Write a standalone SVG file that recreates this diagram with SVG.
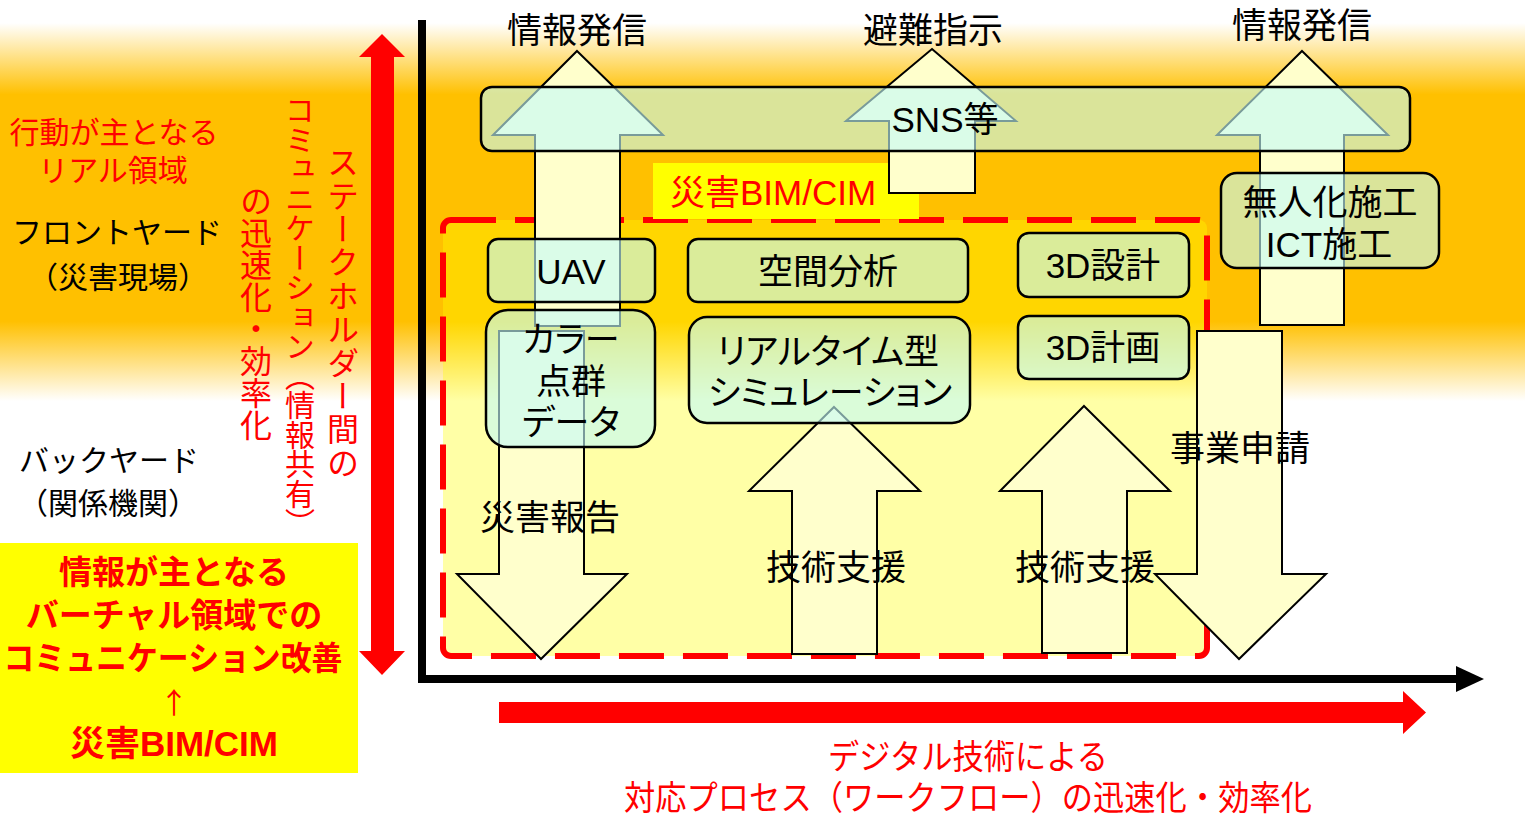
<svg xmlns="http://www.w3.org/2000/svg" width="1525" height="816" viewBox="0 0 1525 816">
<defs>
<linearGradient id="bg" x1="0" y1="0" x2="0" y2="420" gradientUnits="userSpaceOnUse">
<stop offset="0.055" stop-color="#FFFFFF"/>
<stop offset="0.225" stop-color="#FFC000"/>
<stop offset="0.765" stop-color="#FFC000"/>
<stop offset="0.955" stop-color="#FFFFFF"/>
</linearGradient>
<style>
.t{font-family:"Liberation Sans","Noto Sans CJK JP",sans-serif}
.j{font-family:"Noto Sans CJK JP",sans-serif}
.n{font-size:35px;fill:#000;text-anchor:middle}
.p{font-feature-settings:"palt"}
.red{fill:#FF0000}
.v{font-family:"Noto Sans CJK JP",sans-serif;writing-mode:vertical-rl;fill:#FF0000}
.box{fill:#C3FAF8;fill-opacity:0.62;stroke:#000;stroke-width:2.5}
.arr{fill:#FFFFCC;stroke:#000;stroke-width:2;stroke-linejoin:miter}
.b{font-weight:bold}
</style>
</defs>
<rect x="0" y="0" width="1525" height="816" fill="#FFFFFF"/>
<rect x="0" y="0" width="1525" height="420" fill="url(#bg)"/>

<g id="left-labels">
<text class="t red" x="114" y="143" font-size="30" text-anchor="middle">行動が主となる</text>
<text class="t red" x="113" y="181" font-size="30" text-anchor="middle">リアル領域</text>
<text class="t" x="117" y="243" font-size="30" text-anchor="middle">フロントヤード</text>
<text class="j" x="118" y="288" font-size="30" text-anchor="middle">（災害現場）</text>
<text class="t" x="109" y="471" font-size="30" text-anchor="middle">バックヤード</text>
<text class="j" x="108" y="514" font-size="30" text-anchor="middle">（関係機関）</text>
</g>

<g id="virtual-box">
<rect x="0" y="543" width="358" height="230" fill="#FFFF00"/>
<text class="t red b" x="174" y="584" font-size="33" text-anchor="middle">情報が主となる</text>
<text class="t red b" x="174" y="627" font-size="33" text-anchor="middle">バーチャル領域での</text>
<text class="t red b" x="173" y="670" font-size="33" text-anchor="middle" textLength="339" lengthAdjust="spacingAndGlyphs">コミュニケーション改善</text>
<text class="j red" x="174" y="714" font-size="29" text-anchor="middle">↑</text>
<text class="t red b" x="174" y="756" font-size="35" text-anchor="middle">災害BIM/CIM</text>
</g>

<g id="vertical-labels">
<text class="v" x="256" y="185" font-size="32">の迅速化・効率化</text>
<text class="v" x="300" y="95" font-size="30" letter-spacing="-0.5">コミュニケーション（情報共有）</text>
<text class="v" x="343" y="146" font-size="32" letter-spacing="1.4">ステークホルダー間の</text>
</g>

<g id="bim-region">
<rect x="443" y="220" width="764" height="436" rx="8" fill="#FFFF00" fill-opacity="0.35" stroke="#FF0000" stroke-width="6" stroke-dasharray="45 19"/>
</g>

<g id="bim-label">
<rect x="653" y="163" width="266" height="56" fill="#FFFF00"/>
<text class="t red" x="773" y="205" font-size="35" text-anchor="middle">災害BIM/CIM</text>
</g>

<g id="connectors">
<polygon points="382,34 405,57 394,57 394,651 405,651 382,675 359,651 371,651 371,57 359,57" fill="#FF0000"/>
<polygon points="499,702 1403,702 1403,691 1426,712.5 1403,734 1403,723 499,723" fill="#FF0000"/>
<rect x="418" y="20" width="8" height="663" fill="#000"/>
<rect x="418" y="675" width="1040" height="8" fill="#000"/>
<polygon points="1456,666 1484,679 1456,692" fill="#000"/>
<polygon class="arr" points="577,51 663,135 620,135 620,326 535,326 535,135 493,135"/>
<polygon class="arr" points="932,49 1016,121 975,121 975,193 889,193 889,121 846,121"/>
<polygon class="arr" points="1302,51 1388,135 1344,135 1344,325 1260,325 1260,135 1217,135"/>
<polygon class="arr" points="499,331 584,331 584,574 627,574 541,659 457,574 499,574"/>
<polygon class="arr" points="834,407 920,491 877,491 877,654 792,654 792,491 749,491"/>
<polygon class="arr" points="1084,406 1170,491 1127,491 1127,653 1042,653 1042,491 1000,491"/>
<polygon class="arr" points="1197,331 1282,331 1282,574 1326,574 1239,659 1155,574 1197,574"/>
</g>

<g id="flow-labels">
<text class="t n" x="577" y="43">情報発信</text>
<text class="t n" x="933" y="43">避難指示</text>
<text class="t n" x="1302" y="38">情報発信</text>
<text class="t n" x="550" y="530">災害報告</text>
<text class="t n" x="836" y="580">技術支援</text>
<text class="t n" x="1085" y="580">技術支援</text>
<text class="t n" x="1240" y="461">事業申請</text>
</g>

<g id="node-sns">
<rect class="box" x="481" y="87" width="929" height="64" rx="11"/>
<text class="t n" x="945" y="132">SNS等</text>
</g>
<g id="node-uav">
<rect class="box" x="488" y="239" width="167" height="63" rx="10"/>
<text class="t n" x="571" y="283.5">UAV</text>
</g>
<g id="node-pointcloud">
<rect class="box" x="486" y="310" width="169" height="137" rx="22"/>
<text class="t n p" x="571" y="351.5">カラー</text>
<text class="t n p" x="571" y="393.5">点群</text>
<text class="t n p" x="571" y="434.5">データ</text>
</g>
<g id="node-spatial">
<rect class="box" x="688" y="239" width="280" height="63" rx="10"/>
<text class="t n" x="828" y="283.5">空間分析</text>
</g>
<g id="node-simulation">
<rect class="box" x="689" y="317" width="281" height="106" rx="18"/>
<text class="t n p" x="828" y="363.5">リアルタイム型</text>
<text class="t n p" x="830" y="404.5">シミュレーション</text>
</g>
<g id="node-3ddesign">
<rect class="box" x="1018" y="233" width="171" height="64" rx="11"/>
<text class="t n" x="1103" y="277.5">3D設計</text>
</g>
<g id="node-3dplan">
<rect class="box" x="1018" y="316" width="171" height="63" rx="11"/>
<text class="t n" x="1103" y="359.5">3D計画</text>
</g>
<g id="node-unmanned">
<rect class="box" x="1221" y="173" width="218" height="95" rx="16"/>
<text class="t n" x="1330" y="214.5">無人化施工</text>
<text class="t n" x="1329" y="256.5">ICT施工</text>
</g>

<g id="bottom-caption">
<g transform="translate(968,0) scale(0.92,1)">
<text class="t red" x="0" y="769" font-size="34" text-anchor="middle">デジタル技術による</text>
<text class="t red" x="0" y="810" font-size="34" text-anchor="middle">対応プロセス（ワークフロー）の迅速化・効率化</text>
</g>
</g>
</svg>
